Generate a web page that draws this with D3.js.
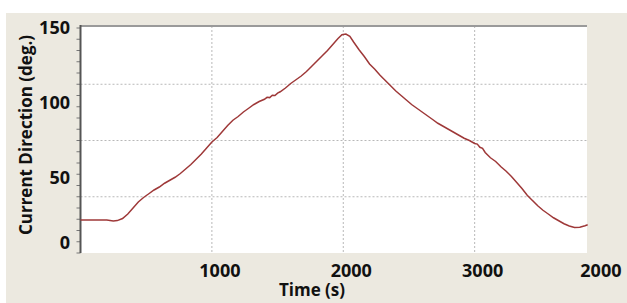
<!DOCTYPE html>
<html>
<head>
<meta charset="utf-8">
<script src="https://cdn.jsdelivr.net/npm/d3@7"></script>
<style>
  body { margin: 0; background: #ffffff; }
  text { font-family: "Open Sans", "DejaVu Sans", sans-serif; font-weight: bold; fill: #111; }
</style>
</head>
<body>
<script>
//Time in seconds
var times = [0, 100, 200, 250, 280, 320, 360, 400, 440, 480, 520, 560, 600, 640, 680, 720, 760, 800,
  840, 880, 920, 960, 1000, 1040, 1080, 1120, 1160, 1200, 1240, 1280, 1320, 1360, 1400, 1420, 1440,
  1460, 1480, 1500, 1520, 1560, 1600, 1640, 1680, 1720, 1760, 1800, 1840, 1880, 1920, 1960, 1990,
  2020, 2050, 2080, 2120, 2160, 2200, 2240, 2280, 2320, 2360, 2400, 2440, 2480, 2520, 2560, 2600,
  2640, 2680, 2720, 2760, 2800, 2840, 2880, 2920, 2960, 3000, 3020, 3040, 3060, 3080, 3120, 3160,
  3200, 3240, 3280, 3320, 3360, 3400, 3440, 3480, 3520, 3560, 3600, 3640, 3680, 3720, 3760, 3800,
  3840, 3860];
//Current direction in degrees
var directions = [22, 22, 22, 21.4, 21.6, 23, 26, 30, 34, 37, 39.5, 42, 44, 46.5, 48.5, 50.5, 53, 56,
  59, 62.5, 66, 70, 74, 77, 81, 85, 88.5, 91, 94, 96.5, 99, 101, 102.5, 103.8, 103.6,
  105.2, 105, 106.6, 107.5, 110, 113, 115.5, 118, 121, 124.5, 128, 131.5, 135, 139, 143, 145.5,
  146, 144.5, 140.5, 135.5, 131, 126, 122.5, 118.5, 115, 111.5, 108, 105, 102, 99, 96.5, 94,
  91.5, 89, 86.5, 84.5, 82.5, 80.5, 78.5, 76.5, 75, 73, 72.6, 70.5, 69.8, 67, 63.5, 61,
  57.5, 54.5, 51, 47, 43, 38.5, 35, 31.5, 28.5, 26, 23.5, 21.5, 19.5, 18, 17, 17.2,
  18.2, 18.8];

//Tick labels (the last one reads "2000" in the original)
var xTickValues = [1000, 2000, 3000, 3900];
var xTickLabels = ["1000", "2000", "3000", "2000"];
var xGridValues = [1000, 2000, 3000];
var yTickValues = [0, 50, 100, 150];
var yGridValues = [37.5, 75, 112.5];
var yMinorValues = d3.range(0, 151, 7.5);

function main(){

  var w = 627;
  var h = 303;
  var left = 80.5, right = 587, top = 26, bottom = 253;

  var points = times.map(function(t, i){ return {t: t, v: directions[i]}; });

  var svg = d3.select("body")
              .append("svg")
              .attr("width", w)
              .attr("height", h);

  //beige panel behind everything
  svg.append("rect")
    .attr("x", 6).attr("y", 13)
    .attr("width", w - 6).attr("height", h - 13)
    .attr("fill", "#ece9e0");

  var x = d3.scaleLinear().domain([0, 3855]).range([left, right]);
  var y = d3.scaleLinear().domain([0, 150]).range([bottom, 28]);

  //white plot area
  svg.append("rect")
    .attr("x", left).attr("y", top)
    .attr("width", right - left).attr("height", bottom - top)
    .attr("fill", "#ffffff");

  //dotted gridlines
  svg.selectAll("line.gx")
    .data(xGridValues)
    .enter()
    .append("line")
    .attr("class", "gx")
    .attr("x1", function(d){ return x(d); })
    .attr("x2", function(d){ return x(d); })
    .attr("y1", top).attr("y2", bottom)
    .attr("stroke", "#b8b8b8")
    .attr("stroke-dasharray", "2,2");

  svg.selectAll("line.gy")
    .data(yGridValues)
    .enter()
    .append("line")
    .attr("class", "gy")
    .attr("x1", left).attr("x2", right)
    .attr("y1", function(d){ return y(d); })
    .attr("y2", function(d){ return y(d); })
    .attr("stroke", "#b8b8b8")
    .attr("stroke-dasharray", "2,2");

  //top border and left axis
  svg.append("line")
    .attr("x1", left).attr("x2", right)
    .attr("y1", top).attr("y2", top)
    .attr("stroke", "#9a9a9a").attr("stroke-width", 2);

  svg.selectAll("line.minor")
    .data(yMinorValues)
    .enter()
    .append("line")
    .attr("class", "minor")
    .attr("x1", left - 4).attr("x2", left)
    .attr("y1", function(d){ return y(d); })
    .attr("y2", function(d){ return y(d); })
    .attr("stroke", "#777");

  svg.append("line")
    .attr("x1", left).attr("x2", left)
    .attr("y1", top - 1).attr("y2", bottom)
    .attr("stroke", "#555").attr("stroke-width", 2);

  //the curve
  var line = d3.line()
    .x(function(d){ return x(d.t); })
    .y(function(d){ return y(d.v); });

  svg.append("path")
    .datum(points)
    .attr("d", line)
    .attr("fill", "none")
    .attr("stroke", "#9e3838")
    .attr("stroke-width", 1.5);

  //tick labels
  svg.selectAll("text.xt")
    .data(xTickValues)
    .enter()
    .append("text")
    .attr("class", "xt")
    .attr("x", function(d){ return x(d) + 8; })
    .attr("y", 277)
    .attr("text-anchor", "middle")
    .style("font-size", "18px")
    .text(function(d, i){ return xTickLabels[i]; });

  svg.selectAll("text.yt")
    .data(yTickValues)
    .enter()
    .append("text")
    .attr("class", "yt")
    .attr("x", 70)
    .attr("y", function(d){ return Math.min(y(d), 243) + 6; })
    .attr("text-anchor", "end")
    .style("font-size", "18px")
    .text(function(d){ return d; });

  //axis titles
  svg.append("text")
    .attr("x", 312).attr("y", 296)
    .attr("text-anchor", "middle")
    .style("font-size", "17px")
    .text("Time (s)");

  svg.append("text")
    .attr("transform", "translate(32,135) rotate(-90)")
    .attr("text-anchor", "middle")
    .style("font-size", "17px")
    .text("Current Direction (deg.)");
}

window.onload = function() {
  main();
};
</script>
</body>
</html>
